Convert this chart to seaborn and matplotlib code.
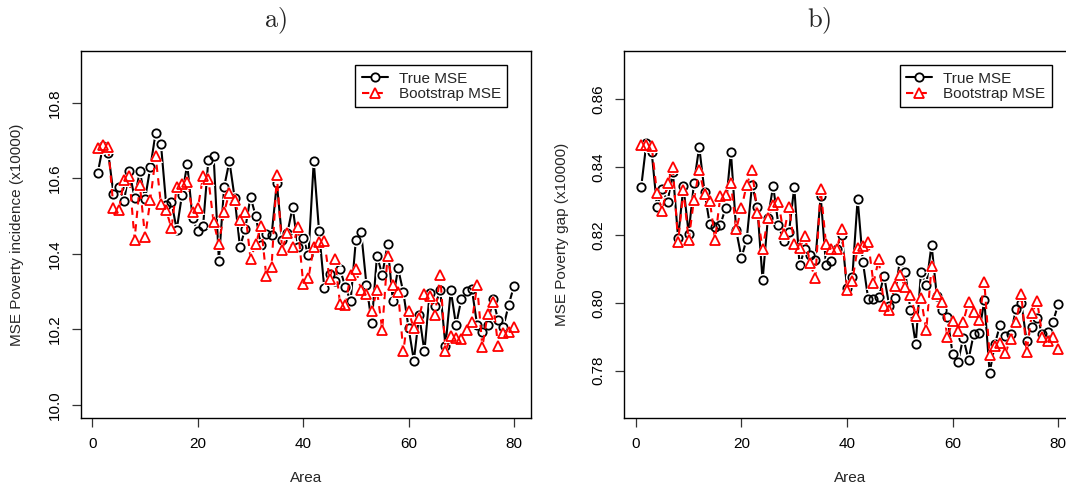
import matplotlib
matplotlib.use('Agg')
import matplotlib.pyplot as plt
from matplotlib.lines import Line2D
import numpy as np
import pandas as pd
import seaborn as sns

# ----------------------------------------------------------
# values
# ----------------------------------------------------------

area = list(range(1, 81))

incid_true = [
    10.613, 10.685, 10.668, 10.559, 10.578, 10.540, 10.620, 10.548, 10.618, 10.546,
    10.630, 10.720, 10.692, 10.530, 10.537, 10.464, 10.556, 10.637, 10.494, 10.459,
    10.473, 10.648, 10.660, 10.382, 10.577, 10.645, 10.547, 10.418, 10.466, 10.551,
    10.499, 10.423, 10.452, 10.449, 10.587, 10.437, 10.455, 10.524, 10.418, 10.441,
    10.396, 10.645, 10.461, 10.309, 10.345, 10.327, 10.359, 10.311, 10.275, 10.437,
    10.457, 10.318, 10.216, 10.395, 10.344, 10.425, 10.276, 10.361, 10.298, 10.203,
    10.117, 10.238, 10.141, 10.296, 10.262, 10.303, 10.155, 10.303, 10.211, 10.279,
    10.302, 10.306, 10.212, 10.192, 10.212, 10.280, 10.224, 10.207, 10.265, 10.315,
]
incid_boot = [
    10.680, 10.688, 10.684, 10.520, 10.515, 10.595, 10.607, 10.437, 10.583, 10.444,
    10.543, 10.658, 10.532, 10.515, 10.468, 10.578, 10.585, 10.590, 10.511, 10.520,
    10.605, 10.599, 10.483, 10.426, 10.511, 10.562, 10.542, 10.490, 10.511, 10.387,
    10.426, 10.474, 10.340, 10.366, 10.608, 10.411, 10.455, 10.417, 10.472, 10.320,
    10.336, 10.419, 10.432, 10.434, 10.333, 10.386, 10.267, 10.265, 10.344, 10.359,
    10.303, 10.294, 10.249, 10.303, 10.199, 10.395, 10.317, 10.299, 10.141, 10.247,
    10.202, 10.231, 10.292, 10.289, 10.238, 10.343, 10.141, 10.181, 10.177, 10.174,
    10.199, 10.219, 10.316, 10.153, 10.240, 10.271, 10.155, 10.190, 10.192, 10.205,
]
gap_true = [
    0.8340, 0.8471, 0.8443, 0.8283, 0.8336, 0.8296, 0.8386, 0.8190, 0.8343, 0.8204,
    0.8352, 0.8459, 0.8327, 0.8231, 0.8224, 0.8230, 0.8279, 0.8444, 0.8213, 0.8133,
    0.8188, 0.8347, 0.8283, 0.8066, 0.8249, 0.8344, 0.8229, 0.8181, 0.8208, 0.8341,
    0.8110, 0.8159, 0.8142, 0.8127, 0.8314, 0.8112, 0.8123, 0.8159, 0.8201, 0.8043,
    0.8076, 0.8306, 0.8120, 0.8012, 0.8010, 0.8017, 0.8080, 0.7990, 0.8014, 0.8126,
    0.8091, 0.7980, 0.7879, 0.8090, 0.8052, 0.8171, 0.8020, 0.7978, 0.7958, 0.7848,
    0.7825, 0.7897, 0.7833, 0.7909, 0.7912, 0.8007, 0.7794, 0.7879, 0.7936, 0.7902,
    0.7907, 0.7983, 0.7999, 0.7889, 0.7928, 0.7955, 0.7907, 0.7914, 0.7944, 0.7996,
]
gap_boot = [
    0.8466, 0.8464, 0.8461, 0.8322, 0.8271, 0.8353, 0.8399, 0.8179, 0.8331, 0.8184,
    0.8304, 0.8390, 0.8319, 0.8301, 0.8186, 0.8314, 0.8316, 0.8353, 0.8216, 0.8279,
    0.8348, 0.8392, 0.8265, 0.8157, 0.8250, 0.8287, 0.8298, 0.8202, 0.8282, 0.8174,
    0.8160, 0.8198, 0.8116, 0.8072, 0.8335, 0.8174, 0.8157, 0.8157, 0.8216, 0.8037,
    0.8064, 0.8162, 0.8167, 0.8179, 0.8057, 0.8129, 0.7990, 0.7980, 0.8049, 0.8083,
    0.8047, 0.8024, 0.7961, 0.8013, 0.7919, 0.8107, 0.8027, 0.8002, 0.7900, 0.7947,
    0.7917, 0.7943, 0.8003, 0.7974, 0.7948, 0.8061, 0.7845, 0.7873, 0.7882, 0.7853,
    0.7894, 0.7943, 0.8025, 0.7856, 0.7969, 0.8005, 0.7900, 0.7887, 0.7900, 0.7865,
]

xticks = [0, 20, 40, 60, 80]
incid_yticks = [10.0, 10.2, 10.4, 10.6, 10.8]
gap_yticks = [0.78, 0.80, 0.82, 0.84, 0.86]

# ----------------------------------------------------------

sns.set_style('ticks')
plt.rcParams['font.family'] = ['Liberation Sans', 'DejaVu Sans']
plt.rcParams['mathtext.fontset'] = 'cm'

FS = 11
LW = 1.5
MS_O = 6.0
MS_T = 7.0

def draw_series(ax, x, y, color, marker, ms, dashes, z):
    df = pd.DataFrame({'x': x, 'y': y})
    line_kw = dict(color=color, lw=LW, zorder=z)
    if dashes:
        line_kw['dashes'] = dashes
    sns.lineplot(data=df, x='x', y='y', ax=ax, estimator=None, sort=False,
                 **line_kw)
    # white halo so the line stops short of each point (R type="b")
    sns.lineplot(data=df, x='x', y='y', ax=ax, estimator=None, sort=False,
                 linestyle='none', marker=marker, ms=ms + 3.5, mfc='white',
                 mec='white', mew=0, zorder=z + 0.1)
    sns.lineplot(data=df, x='x', y='y', ax=ax, estimator=None, sort=False,
                 linestyle='none', marker=marker, ms=ms, mfc='none',
                 mec=color, mew=1.3, zorder=z + 0.2)
#-- draw_series

def panel(ax, ytrue, yboot, ylim, yticks, yfmt, ylabel, ylab_x):
    draw_series(ax, area, ytrue, 'black', 'o', MS_O, None, 2)
    draw_series(ax, area, yboot, 'red', '^', MS_T, (3.5, 3), 3)

    span = ylim[1] - ylim[0]
    ax.set_ylim(ylim[0] - 0.04 * span, ylim[1] + 0.04 * span)
    ax.set_xlim(1 - 0.04 * 79, 80 + 0.04 * 79)
    ax.set_xticks(xticks)
    ax.set_xticklabels([str(t) for t in xticks])
    ax.set_yticks(yticks)
    ax.set_yticklabels([yfmt % t for t in yticks], rotation=90, va='center')

    for s in ax.spines.values():
        s.set_visible(True)
        s.set_color('black')
        s.set_linewidth(1.0)
    ax.tick_params(axis='both', direction='out', length=6.5, width=0.9,
                   color='#333333', labelsize=FS, pad=7.0, labelcolor='black')
    ax.grid(False)

    ax.set_xlabel('Area', fontsize=FS)
    ax.set_ylabel(ylabel, fontsize=FS)
    ax.xaxis.set_label_coords(0.5, -0.144)
    ax.yaxis.set_label_coords(ylab_x, 0.5)

    handles = [
        Line2D([], [], color='black', lw=LW, marker='o', ms=MS_O, mfc='white',
               mec='black', mew=1.3),
        Line2D([], [], color='red', lw=LW, dashes=(3.5, 3), marker='^',
               ms=MS_T, mfc='white', mec='red', mew=1.3),
    ]
    leg = ax.legend(handles, ['True MSE', 'Bootstrap MSE'],
                    loc='upper right', bbox_to_anchor=(0.948, 0.962),
                    fontsize=FS, frameon=True, fancybox=False, framealpha=1,
                    edgecolor='black', borderpad=0.4, labelspacing=0.12,
                    handlelength=1.7, handletextpad=0.75, numpoints=1,
                    borderaxespad=0)
    leg.get_frame().set_linewidth(1.0)
#-- panel

fig = plt.figure(figsize=(10.66, 4.91), dpi=100)
ax1 = fig.add_axes([0.0760, 0.1481, 0.4218, 0.7471])
ax2 = fig.add_axes([0.5858, 0.1481, 0.4226, 0.7471])

panel(ax1, incid_true, incid_boot, (10.0, 10.9), incid_yticks, '%.1f',
      'MSE Poverty incidence (x10000)', -0.126)
panel(ax2, gap_true, gap_boot, (0.77, 0.87), gap_yticks, '%.2f',
      'MSE Poverty gap (x10000)', -0.124)

fig.text(275 / 1066, 1 - 21 / 491, r'$\mathrm{a)}$', fontsize=19,
         ha='center', va='center')
fig.text(819 / 1066, 1 - 21 / 491, r'$\mathrm{b)}$', fontsize=19,
         ha='center', va='center')

fig.savefig('out.png', dpi=100)
